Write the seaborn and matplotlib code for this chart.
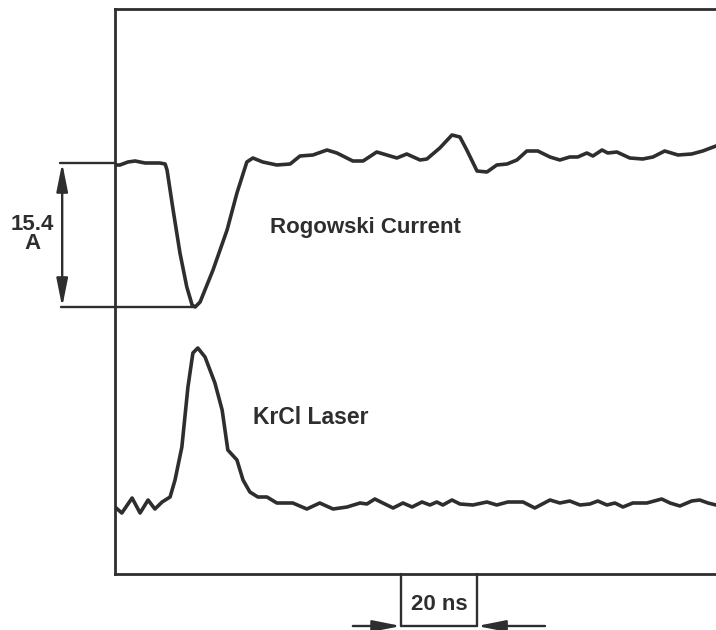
import numpy as np
import pandas as pd
import matplotlib
matplotlib.use("Agg")
import matplotlib.pyplot as plt
import seaborn as sns

# ---- data (x in ns, y = trace height in display units) ----
rog_t = [0.0, 1.3, 3.4, 5.3, 7.9, 11.8, 13.2, 13.7, 15.3, 17.1, 18.9, 20.3, 21.1, 22.4,
         25.8, 29.5, 32.1, 34.7, 36.3, 38.9, 42.6, 46.1, 48.7, 52.1, 55.8, 58.4, 62.6,
         65.3, 68.9, 74.2, 76.8, 80.3, 82.1, 85.5, 88.7, 90.8, 92.6, 95.3, 97.9, 100.5,
         103.2, 105.8, 108.4, 111.3, 114.5, 117.1, 119.7, 121.8, 124.2, 125.8, 128.2,
         129.7, 132.1, 135.5, 138.9, 141.6, 144.7, 148.2, 151.8, 154.7, 158.2]
rog_y = [409, 409, 412, 413, 411, 411, 410, 404, 364, 321, 287, 269, 267, 272,
         304, 344, 381, 412, 416, 412, 409, 410, 418, 419, 424, 421, 413,
         413, 422, 416, 420, 414, 415, 426, 439, 437, 424, 403, 402, 409,
         410, 414, 423, 423, 417, 414, 417, 417, 421, 418, 424,
         421, 422, 416, 415, 417, 423, 419, 420, 423, 428]

las_t = [0.0, 1.8, 4.5, 6.6, 8.7, 10.5, 12.4, 14.5, 15.8, 17.6, 19.2, 20.5, 21.8, 23.7,
         26.3, 28.2, 29.7, 32.1, 33.7, 35.5, 37.6, 40.0, 42.6, 46.8, 50.5, 53.9, 57.4,
         61.1, 64.5, 66.3, 68.4, 70.5, 73.2, 75.8, 78.2, 80.8, 82.9, 84.7, 86.3, 88.7,
         90.8, 94.2, 97.9, 100.5, 103.4, 107.4, 110.5, 114.5, 117.1, 119.7, 122.4, 125.0,
         127.1, 129.5, 131.6, 133.7, 136.3, 140.0, 143.9, 146.1, 148.7, 151.8, 153.9,
         156.1, 158.2]
las_y = [67, 61, 76, 61, 74, 65, 72, 77, 94, 127, 187, 221, 226, 217,
         191, 164, 124, 114, 94, 82, 77, 77, 71, 71, 65, 71, 65,
         67, 71, 70, 75, 71, 66, 71, 67, 72, 69, 72, 69, 74,
         70, 69, 72, 69, 72, 72, 66, 74, 71, 73, 69, 70,
         73, 69, 71, 67, 71, 71, 75, 71, 68, 73, 74,
         71, 69]

current_span_label = "15.4\nA"
rog_label = "Rogowski Current"
las_label = "KrCl Laser"
time_scale_label = "20 ns"
time_scale_ns = 20.0

# levels of the current-span marker (top level / minimum of the Rogowski trace)
level_hi = 411
level_lo = min(rog_y)
t_min = rog_t[rog_y.index(level_lo)]

# ---- styling ----
sns.set_style("white")
plt.rcParams['font.family'] = ['Liberation Sans', 'DejaVu Sans']
ink = "#2e2e2e"

fig = plt.figure(figsize=(7.16, 6.30), dpi=100)
ax = fig.add_axes([115/716, 56/630, 601/716, 565/630])

df_r = pd.DataFrame({"t": rog_t, "y": rog_y})
df_l = pd.DataFrame({"t": las_t, "y": las_y})
sns.lineplot(data=df_r, x="t", y="y", ax=ax, color=ink, lw=2.6, sort=False,
             solid_joinstyle="round", solid_capstyle="round")
sns.lineplot(data=df_l, x="t", y="y", ax=ax, color=ink, lw=2.6, sort=False,
             solid_joinstyle="round", solid_capstyle="round")

ax.set_xlim(0, 158.2)
ax.set_ylim(0, 565)
ax.set_xlabel("")
ax.set_ylabel("")
ax.set_xticks([])
ax.set_yticks([])
for s in ["left", "top", "bottom"]:
    ax.spines[s].set_color(ink)
    ax.spines[s].set_linewidth(2.0)
ax.spines["right"].set_visible(False)

arrow_style_2 = "<|-|>,head_length=1.0,head_width=0.2"
arrow_style_1 = "-|>,head_length=1.0,head_width=0.2"

# current span marker
x_arrow = -13.9
ax.plot([-14.5, 0], [level_hi, level_hi], color=ink, lw=1.7, clip_on=False)
ax.plot([-14.2, t_min], [level_lo, level_lo], color=ink, lw=1.7, clip_on=False)
ax.annotate("", xy=(x_arrow, level_hi), xytext=(x_arrow, level_lo),
            arrowprops=dict(arrowstyle=arrow_style_2, color=ink, lw=1.7,
                            mutation_scale=17, shrinkA=0, shrinkB=0),
            annotation_clip=False)
ax.text(-21.8, 340, current_span_label, ha="center", va="center", fontsize=16,
        fontweight="bold", color=ink, linespacing=0.9, clip_on=False)

ax.text(66, 346, rog_label, ha="center", va="center", fontsize=16,
        fontweight="bold", color=ink)
ax.text(51.6, 156, las_label, ha="center", va="center", fontsize=16.5,
        fontweight="bold", color=ink)

# 20 ns time scale box
x0 = 75.3
x1 = x0 + time_scale_ns
yb = -52
ax.plot([x0, x0], [0, yb], color=ink, lw=1.7, clip_on=False)
ax.plot([x1, x1], [0, yb], color=ink, lw=1.7, clip_on=False)
ax.plot([x0, x1], [yb, yb], color=ink, lw=1.7, clip_on=False)
ax.annotate("", xy=(x0, yb), xytext=(62.6, yb),
            arrowprops=dict(arrowstyle=arrow_style_1, color=ink, lw=1.7,
                            mutation_scale=17, shrinkA=0, shrinkB=0),
            annotation_clip=False)
ax.annotate("", xy=(x1, yb), xytext=(113.2, yb),
            arrowprops=dict(arrowstyle=arrow_style_1, color=ink, lw=1.7,
                            mutation_scale=17, shrinkA=0, shrinkB=0),
            annotation_clip=False)
ax.text((x0 + x1) / 2, -31, time_scale_label, ha="center", va="center",
        fontsize=16, fontweight="bold", color=ink, clip_on=False)

fig.savefig("out.png", dpi=100)
